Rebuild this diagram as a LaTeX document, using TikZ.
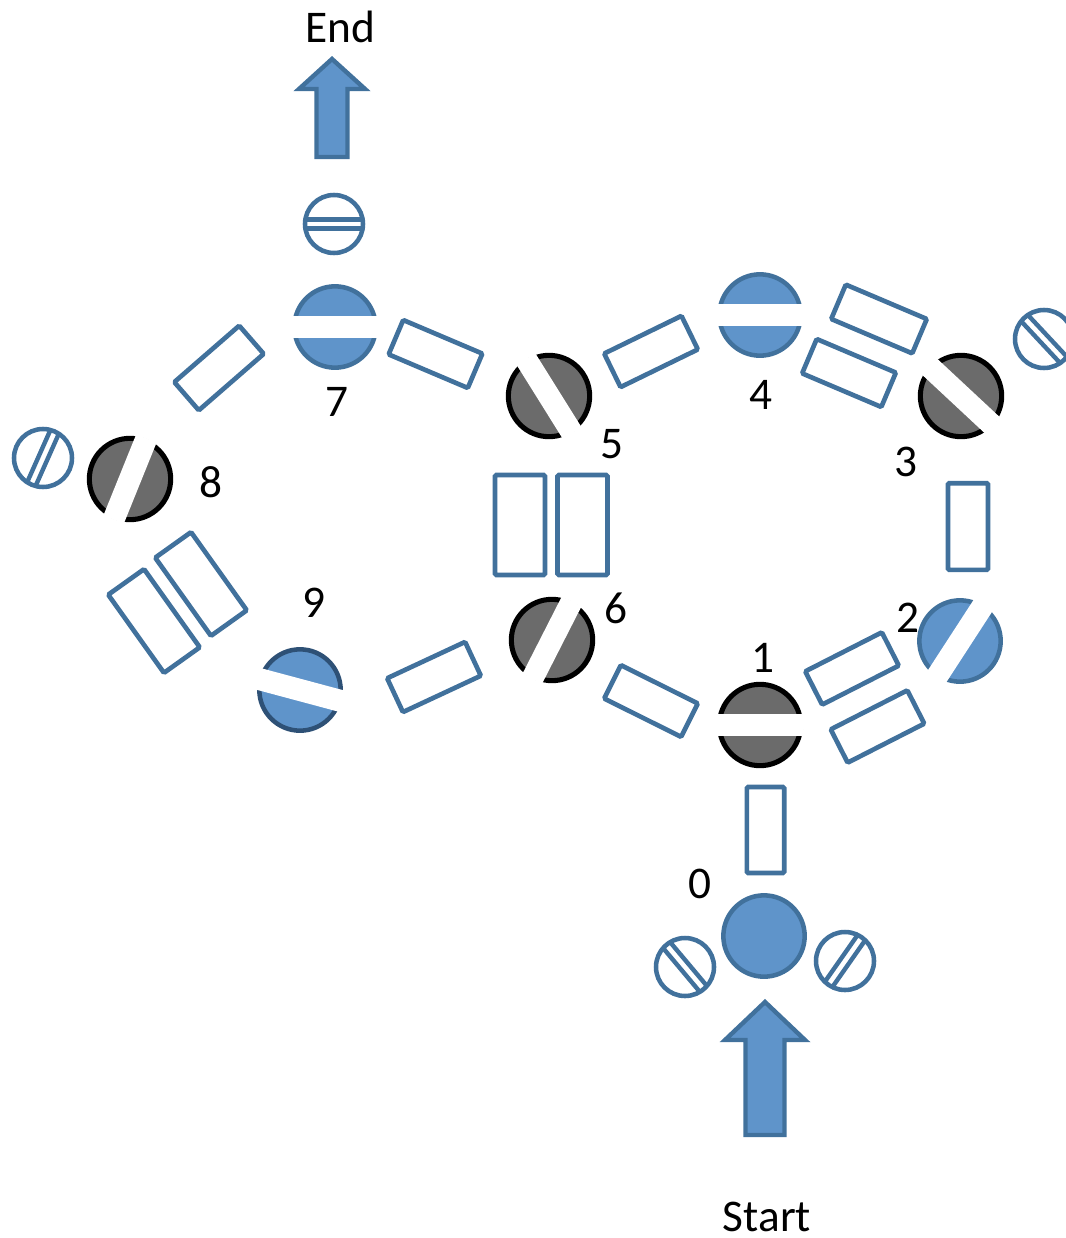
\documentclass[tikz,border=0pt]{standalone}
\usepackage{fontspec}
\setmainfont{Carlito}
\definecolor{bfill}{HTML}{5F94CA}
\definecolor{bline}{HTML}{41719C}
\definecolor{bdark}{HTML}{2E5176}
\definecolor{gfill}{HTML}{6B6B6B}
\newcommand\stripecut[2]{%
  \begin{scope}[shift={(#1.center)}, rotate=#2]
    \clip (0,0) circle (33pt);
    \fill[white] (-50,-11) rectangle (50,11);
  \end{scope}}
\newcommand\hatchlines[2]{%
  \begin{scope}[shift={(#1.center)}, rotate=#2]
    \clip (0,0) circle (21.75pt);
    \draw[bline, line width=3.3pt] (-40,4.6) -- (40,4.6) (-40,-4.6) -- (40,-4.6);
  \end{scope}}
\begin{document}
\begin{tikzpicture}[x=0.75pt, y=0.75pt,
  bigblue/.style={circle, draw=bline, fill=bfill, line width=3.4pt, minimum size=61pt, inner sep=0pt},
  biggray/.style={circle, draw=black, fill=gfill, line width=3.8pt, minimum size=61pt, inner sep=0pt},
  small/.style={circle, draw=bline, fill=white, line width=3.4pt, minimum size=43.5pt, inner sep=0pt},
  rect/.style={rectangle, draw=bline, fill=white, line width=3.5pt, rounded corners=1pt, inner sep=0pt, minimum width=64.5pt, minimum height=28pt},
  bigrect/.style={rect, minimum width=75pt, minimum height=37.5pt},
  midrect/.style={rect, minimum width=72pt, minimum height=33pt},
  arrowst/.style={draw=bline, fill=bfill, line width=3.3pt, line join=miter},
  lab/.style={font=\fontsize{34}{40}\selectfont, anchor=base, inner sep=0pt}]
\useasboundingbox (0,0) rectangle (1066,-1238);

% rectangles
\node[rect, rotate=90] (r01) at (765.5,-830) {};
\node[rect, rotate=27] (r12a) at (852,-668.5) {};
\node[rect, rotate=27] (r12b) at (877.5,-726.5) {};
\node[rect, rotate=90, minimum width=65pt, minimum height=30pt] (r23) at (968,-526.5) {};
\node[rect, rotate=-23, minimum width=66pt, minimum height=28pt] (r34a) at (879,-319) {};
\node[rect, rotate=-23] (r34b) at (849,-373) {};
\node[rect, rotate=26] (r45) at (651,-351.5) {};
\node[rect, rotate=-23] (r57) at (435.5,-354) {};
\node[rect, rotate=41] (r78) at (219,-368) {};
\node[midrect, rotate=-54.5] (r89a) at (154,-621) {};
\node[midrect, rotate=-54.5] (r89b) at (201,-584) {};
\node[bigrect, rotate=90] (r56a) at (520,-525) {};
\node[bigrect, rotate=90] (r56b) at (582.5,-525) {};
\node[rect, rotate=-26.5] (r16) at (651,-701) {};
\node[rect, rotate=25] (r69) at (434,-677) {};

% big circles
\node[bigblue] (n0) at (764,-936) {};
\node[biggray] (n1) at (760,-725) {};
\node[bigblue] (n2) at (960,-641) {};
\node[biggray] (n3) at (961,-396) {};
\node[bigblue] (n4) at (760,-315) {};
\node[biggray] (n5) at (549,-396) {};
\node[biggray] (n6) at (552,-640) {};
\node[bigblue] (n7) at (335,-327) {};
\node[biggray] (n8) at (130,-479) {};
\node[bigblue, draw=bdark] (n9) at (300,-690) {};
\stripecut{n1}{0}
\stripecut{n2}{57}
\stripecut{n3}{-43}
\stripecut{n4}{0}
\stripecut{n5}{-58}
\stripecut{n6}{63}
\stripecut{n7}{0}
\stripecut{n8}{68}
\stripecut{n9}{-15}

% small hatched circles
\node[small] (sE) at (334,-224) {};
\node[small] (s3) at (1044,-339) {};
\node[small] (s8) at (43,-458) {};
\node[small] (s0l) at (685,-967) {};
\node[small] (s0r) at (845,-961) {};
\hatchlines{sE}{0}
\hatchlines{s3}{-47}
\hatchlines{s8}{66}
\hatchlines{s0l}{-50}
\hatchlines{s0r}{55}

% arrows
\draw[arrowst] (332,-59) -- (365,-89) -- (347.5,-89) -- (347.5,-157) -- (316.5,-157) -- (316.5,-89) -- (299,-89) -- cycle;
\draw[arrowst] (765,-1002) -- (805,-1040) -- (784.5,-1040) -- (784.5,-1135) -- (745.5,-1135) -- (745.5,-1040) -- (725,-1040) -- cycle;

% labels
\node[lab] (tEnd) at (340,-43) {End};
\node[lab] (tStart) at (767,-1231) {Start};
\node[lab] (t0) at (699.5,-898) {0};
\node[lab] (t1) at (763,-672) {1};
\node[lab] (t2) at (908,-632) {2};
\node[lab] (t3) at (906,-476) {3};
\node[lab] (t4) at (761,-409) {4};
\node[lab] (t5) at (612,-458) {5};
\node[lab] (t6) at (615.5,-623) {6};
\node[lab] (t7) at (337,-416) {7};
\node[lab] (t8) at (210.5,-497) {8};
\node[lab] (t9) at (314,-617) {9};
\end{tikzpicture}
\end{document}
